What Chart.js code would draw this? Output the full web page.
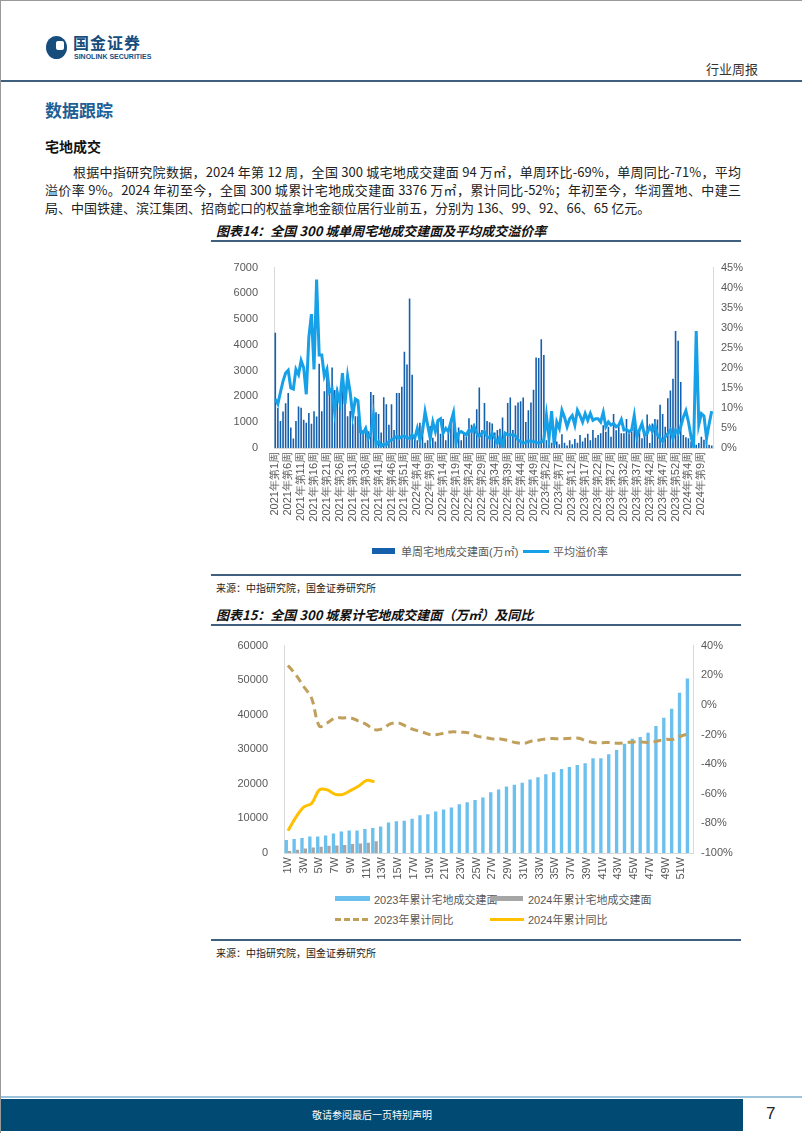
<!DOCTYPE html>
<html>
<head>
<meta charset="utf-8">
<script src="https://cdn.jsdelivr.net/npm/chart.js@4.4.1/dist/chart.umd.min.js"></script>
<style>
  body { margin: 0; background: #fff; font-family: "Noto Sans CJK SC", "Noto Sans", sans-serif; }
  #page { position: relative; width: 802px; height: 1133px; overflow: hidden; border-left: 1px solid #999; border-top: 1px solid #999; box-sizing: border-box; }
  .abs { position: absolute; }
  .para div { position: absolute; font-size: 13px; color: #222; text-align: justify; text-align-last: justify; white-space: nowrap; }
  .ttl { font-size: 13px; font-weight: bold; font-style: italic; color: #111; }
  .rule { position: absolute; height: 2px; background: #3e5f7e; }
  .src { font-size: 10px; color: #222; }
  .leg { position: absolute; font-family: "Liberation Sans", "Noto Sans CJK SC", sans-serif; font-size: 11px; color: #595959; white-space: nowrap; }
  .leg span { position: absolute; }
</style>
</head>
<body>
<div id="page">
  <!-- header -->
  <div class="abs" style="left:45px;top:35px;width:21px;height:23px;border-radius:50%;background:#174d7c;"></div>
  <div class="abs" style="left:55px;top:40px;width:8px;height:9px;background:#fff;border-radius:2px;"></div>
  <div class="abs" style="left:72px;top:31px;font-size:16px;line-height:20px;font-weight:bold;color:#174d7c;letter-spacing:1px;">国金证券</div>
  <div class="abs" style="left:73px;top:52px;font-size:7px;line-height:8px;font-weight:bold;color:#174d7c;font-family:'Liberation Sans',sans-serif;">SINOLINK SECURITIES</div>
  <div class="abs" style="left:705px;top:58px;font-size:13px;color:#333;">行业周报</div>
  <div class="abs" style="left:0;top:79px;width:802px;height:2px;background:#3e5f7e;"></div>

  <div class="abs" style="left:44px;top:96px;font-size:17px;font-weight:bold;color:#1d5f96;">数据跟踪</div>
  <div class="abs" style="left:44px;top:135px;font-size:14px;font-weight:bold;color:#111;">宅地成交</div>

  <div class="para">
    <div style="left:72px;top:161px;width:668px;">根据中指研究院数据，2024 年第 12 周，全国 300 城宅地成交建面 94 万㎡，单周环比-69%，单周同比-71%，平均</div>
    <div style="left:44px;top:179px;width:696px;">溢价率 9%。2024 年初至今，全国 300 城累计宅地成交建面 3376 万㎡，累计同比-52%；年初至今，华润置地、中建三</div>
    <div style="left:44px;top:197px;text-align-last:left;">局、中国铁建、滨江集团、招商蛇口的权益拿地金额位居行业前五，分别为 136、99、92、66、65 亿元。</div>
  </div>

  <!-- chart 14 -->
  <div class="abs ttl" style="left:215px;top:220px;">图表14：全国 300 城单周宅地成交建面及平均成交溢价率</div>
  <div class="rule" style="left:210px;top:239px;width:530px;"></div>
  <div class="abs" style="left:215px;top:252px;width:530px;height:285px;"><canvas id="chart-week"></canvas></div>
  <div class="leg" style="left:0;top:542px;width:802px;height:16px;">
    <span style="left:371px;top:5px;width:23px;height:6px;background:#1560ac;"></span>
    <span style="left:400px;top:0;">单周宅地成交建面(万㎡)</span>
    <span style="left:522px;top:7px;width:26px;height:3px;background:#16a0e8;"></span>
    <span style="left:552px;top:0;">平均溢价率</span>
  </div>
  <div class="rule" style="left:210px;top:573px;width:530px;"></div>
  <div class="abs src" style="left:215px;top:579px;">来源：中指研究院，国金证券研究所</div>

  <!-- chart 15 -->
  <div class="abs ttl" style="left:215px;top:604px;">图表15：全国 300 城累计宅地成交建面（万㎡）及同比</div>
  <div class="rule" style="left:210px;top:623px;width:530px;"></div>
  <div class="abs" style="left:215px;top:630px;width:530px;height:255px;"><canvas id="chart-cum"></canvas></div>
  <div class="leg" style="left:0;top:890px;width:802px;height:40px;">
    <span style="left:334px;top:5px;width:35px;height:5px;background:#6cc0ee;"></span>
    <span style="left:373px;top:0;">2023年累计宅地成交建面</span>
    <span style="left:489px;top:5px;width:33px;height:5px;background:#a6a6a6;"></span>
    <span style="left:527px;top:0;">2024年累计宅地成交建面</span>
    <span style="left:334px;top:27px;width:33px;height:0;border-top:3px dashed #bf9f5a;"></span>
    <span style="left:373px;top:20px;">2023年累计同比</span>
    <span style="left:489px;top:27px;width:34px;height:3px;background:#ffc000;"></span>
    <span style="left:527px;top:20px;">2024年累计同比</span>
  </div>
  <div class="rule" style="left:210px;top:938px;width:530px;"></div>
  <div class="abs src" style="left:215px;top:944px;">来源：中指研究院，国金证券研究所</div>

  <!-- footer -->
  <div class="abs" style="left:0;top:1095px;width:802px;height:2px;background:#9cc3dc;"></div>
  <div class="abs" style="left:0;top:1098px;width:742px;height:32px;background:#004a73;"></div>
  <div class="abs" style="left:0;top:1106px;width:742px;text-align:center;font-size:10px;color:#fff;">敬请参阅最后一页特别声明</div>
  <div class="abs" style="left:765px;top:1103px;font-size:17px;color:#222;font-family:'Liberation Sans',sans-serif;">7</div>
</div>

<script>
// ---- 图表14 data ----
var weekYears = [2021, 2022, 2023, 2024];
var weeksInYear = [52, 52, 53, 13];

// 单周宅地成交建面 (万㎡)
var weeklyArea = [
  4470, 1560, 1050, 1420, 1740, 2130, 800, 370, 1050, 1610, 1560, 1100, 980, 1360, 940, 1430, 1220, 3270, 1430,
  2200, 3050, 2150, 3120, 2250, 2350, 1800, 2620, 2000, 1230, 1440, 950, 1230, 1230, 820, 700, 600, 650,
  2170, 2060, 1390, 1320, 600, 1970, 1700, 900, 1700, 700, 2130, 2130, 2380, 3730, 3240, 5800, 2840,
  400, 300, 980, 850, 200, 300, 850, 400, 250, 1000, 550, 1130, 300, 600, 1000, 1200, 600, 800, 300, 600,
  450, 1150, 900, 950, 1500, 2350, 700, 1750, 1050, 1000, 950, 600, 700, 750,
  1180, 600, 1750, 1960, 700, 1650, 1770, 1810, 1960, 1010, 1460, 1770, 2260, 3510, 3490, 4220, 3610,
  300, 150, 200, 500, 250, 150, 530, 200, 100, 300, 150, 350, 200, 500, 250, 400, 550, 300, 700, 400,
  500, 570, 880, 630, 820, 440, 1320, 690, 820, 570, 570, 1130, 570, 630, 820, 440, 630, 380, 690, 1300,
  190, 950, 1130, 1110, 1680, 1320, 820, 1930, 2230, 2690, 4540, 4160, 2560, 500, 420, 380, 250, 190, 130, 190,
  440, 320, 250, 130, 94
];

// 平均溢价率 (%)
var premiumRate = [
  12.2, 11, 13.9, 16.7, 18.7, 19.4, 15, 14.7, 19.6, 18.3,
  21.8, 20, 13.4, 27.7, 33.4, 19.6, 42, 23.2, 23.2, 17.9,
  19.6, 13.9, 14.7, 9, 13.9, 11.4, 18.7, 11, 17.9, 13.9,
  8.1, 12.2, 11.8, 4, 3.7, 4.9, 2.4, 3.7, 8.1, 0.8,
  1.6, 0.4, 1, 0.8, 1.6, 2, 2.4, 2.9, 2.4, 2.9,
  2.9, 2.6, 2.4, 3.3, 2.4, 4.9, 2, 4.1, 9, 5.7,
  2.4, 6.5, 4.1, 6.9, 7.3, 3.7, 4.9, 4.1, 6.5, 8.8,
  1.2, 3.7, 4.1, 3.7, 3.3, 4.5, 4.1, 5.3, 3.7, 2.9,
  3.7, 4.1, 2.9, 2.4, 3.7, 2.4, 1.2, 2.9, 0.4, 3.7,
  3.3, 3.3, 3.3,
  3.0, 2.0, 1.6, 1.2, 1.4, 1.8, 1.7, 1.6, 1.4, 1.2, 1.5, 2.0,
  8.1, 2.4, 9.2, 0.8, 6.5, 4.9, 9.4, 7.7, 5.3, 7.3, 8.1, 5.7, 9.4, 8.1, 6.5, 8.6, 6.9, 8.6, 6.9, 7.3,
  7.3, 6.5, 8.9, 5.3, 6.5, 5.7, 6.1, 5.3, 5.7, 7.1, 4.5, 4.6, 4.1, 4.5, 8.1, 2.8, 4.5, 6.1, 3.2, 3.6,
  5.3, 4.1, 5.7, 3.2, 2.4, 1.6, 2.8, 3.6, 4.5, 2.4, 4.5, 3.6, 5.3, 7.7, 9.3, 6.5, 2.8, 0.4, 29.2, 5.8,
  8.6, 8.0, 2.4, 6.0, 9.2
];

// ---- 图表15 data ----
var cumWeekCount = 52;
var cum2023 = [
  3740, 4030, 4320, 4800, 4800, 5090, 5660, 6240, 6530, 6530, 6910, 7200, 7680, 8830, 9210, 9310, 9880,
  10940, 11230, 12000, 12570, 13150, 14110, 14680, 15350, 16030, 17600, 18370, 19230, 19710, 20290,
  21250, 21920, 22790, 23370, 24330, 24900, 25480, 25960, 27400, 27400, 28560, 29810, 31630, 33080,
  33560, 34810, 36730, 39130, 41730, 46350, 50480
];
var cum2024 = [550, 950, 1300, 1600, 1820, 2110, 2200, 2300, 2590, 2780, 2970, 3376];
var yoy2023 = [
  26.6, 20.3, 12.4, 4.6, -14.4, -12.2, -8.8, -8.8, -8.8, -11, -13.3, -16.7, -16.2, -12.9, -12.2, -14.4,
  -16.7, -18.2, -20, -20, -18.9, -18.2, -18.5, -18.9, -21.1, -22, -23, -23, -24, -25.5, -26, -24.4,
  -23.7, -22.8, -22.8, -22.8, -22.6, -22.6, -24.4, -25.5, -25.5, -25.5, -26, -25.5, -25, -25, -25.5,
  -24.4, -23.3, -23.3, -21, -19.5
];
var yoy2024 = [-85, -76, -69, -66.6, -57.4, -57.4, -60.4, -60.4, -57.7, -54.8, -51, -51.8];

var weekLabels = [];
for (var y = 0; y < weekYears.length; y++) {
  for (var w = 1; w <= weeksInYear[y]; w++) {
    weekLabels.push(weekYears[y] + "年第" + w + "周");
  }
}
var cumLabels = [];
for (var k = 1; k <= cumWeekCount; k++) {
  cumLabels.push(k + "W");
}

var tickFont = { size: 11, family: "Liberation Sans" };
var tickColor = "#595959";
var axisColor = "#d9d9d9";

var ctx1 = document.getElementById("chart-week").getContext("2d");
var chart1 = new Chart(ctx1, {
  data: {
    labels: weekLabels,
    datasets: [
      {
        type: "line",
        label: "平均溢价率",
        data: premiumRate,
        yAxisID: "y1",
        borderColor: "#16a0e8",
        borderWidth: 3,
        pointRadius: 0,
        tension: 0,
        order: 0,
      },
      {
        type: "bar",
        label: "单周宅地成交建面(万㎡)",
        data: weeklyArea,
        yAxisID: "y",
        backgroundColor: "#1560ac",
        categoryPercentage: 1,
        barPercentage: 0.62,
        order: 1,
      },
    ],
  },
  options: {
    responsive: true,
    maintainAspectRatio: false,
    animation: false,
    layout: { padding: { top: 10 } },
    plugins: { legend: { display: false }, tooltip: { enabled: false } },
    scales: {
      x: {
        grid: { display: false, drawTicks: false },
        border: { color: axisColor },
        ticks: {
          autoSkip: false,
          maxRotation: 90,
          minRotation: 90,
          padding: 4,
          color: tickColor,
          font: tickFont,
          callback: function (v, i) { return i % 5 === 0 ? weekLabels[i] : ""; },
        },
        afterFit: function (s) { s.height = 90; },
      },
      y: {
        position: "left",
        min: 0,
        max: 7000,
        grid: { display: false },
        border: { color: axisColor },
        ticks: { stepSize: 1000, color: tickColor, font: tickFont, padding: 8, callback: function (v) { return String(v); } },
        afterFit: function (s) { s.width = 58; },
      },
      y1: {
        position: "right",
        min: 0,
        max: 45,
        grid: { display: false, drawOnChartArea: false, tickLength: 4, color: axisColor },
        border: { color: axisColor },
        ticks: { stepSize: 5, color: tickColor, font: tickFont, padding: 4, callback: function (v) { return v + "%"; } },
        afterFit: function (s) { s.width = 33; },
      },
    },
  },
});

var ctx2 = document.getElementById("chart-cum").getContext("2d");
var chart2 = new Chart(ctx2, {
  data: {
    labels: cumLabels,
    datasets: [
      {
        type: "line",
        label: "2023年累计同比",
        data: yoy2023,
        yAxisID: "y1",
        borderColor: "#bf9f5a",
        borderWidth: 3,
        borderDash: [8, 5],
        pointRadius: 0,
        tension: 0.35,
        order: 0,
      },
      {
        type: "line",
        label: "2024年累计同比",
        data: yoy2024,
        yAxisID: "y1",
        borderColor: "#ffc000",
        borderWidth: 3,
        pointRadius: 0,
        tension: 0.35,
        order: 0,
      },
      {
        type: "bar",
        label: "2023年累计宅地成交建面",
        data: cum2023,
        yAxisID: "y",
        backgroundColor: "#6cc0ee",
        categoryPercentage: 0.85,
        barPercentage: 1,
        order: 1,
      },
      {
        type: "bar",
        label: "2024年累计宅地成交建面",
        data: cum2024,
        yAxisID: "y",
        backgroundColor: "#a6a6a6",
        categoryPercentage: 0.85,
        barPercentage: 1,
        order: 1,
      },
    ],
  },
  options: {
    responsive: true,
    maintainAspectRatio: false,
    animation: false,
    layout: { padding: { top: 14 } },
    plugins: { legend: { display: false }, tooltip: { enabled: false } },
    scales: {
      x: {
        grid: { display: false, drawTicks: false },
        border: { color: axisColor },
        ticks: {
          autoSkip: false,
          maxRotation: 90,
          minRotation: 90,
          padding: 4,
          color: tickColor,
          font: tickFont,
          callback: function (v, i) { return i % 2 === 0 ? cumLabels[i] : ""; },
        },
        afterFit: function (s) { s.height = 33; },
      },
      y: {
        position: "left",
        min: 0,
        max: 60000,
        grid: { display: false },
        border: { color: axisColor },
        ticks: { stepSize: 10000, color: tickColor, font: tickFont, padding: 8, callback: function (v) { return String(v); } },
        afterFit: function (s) { s.width = 68; },
      },
      y1: {
        position: "right",
        min: -100,
        max: 40,
        grid: { display: false, drawOnChartArea: false, tickLength: 4, color: axisColor },
        border: { color: axisColor },
        ticks: { stepSize: 20, color: tickColor, font: tickFont, padding: 4, callback: function (v) { return v + "%"; } },
        afterFit: function (s) { s.width = 53; },
      },
    },
  },
});
</script>
</body>
</html>
